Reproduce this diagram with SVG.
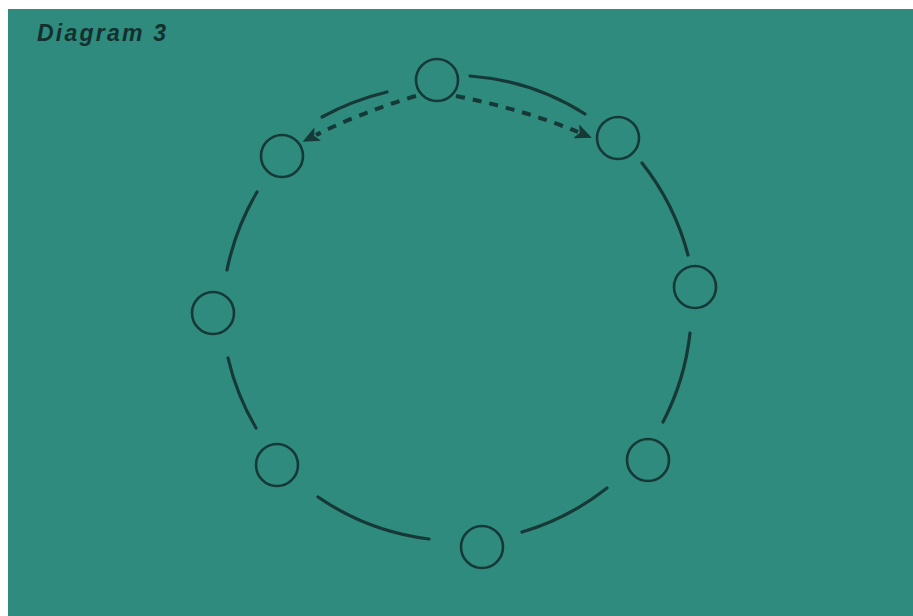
<svg xmlns="http://www.w3.org/2000/svg" width="913" height="616" viewBox="0 0 913 616">
<defs>
<style>
.node{fill:none;stroke:#163837;stroke-width:2.6}
.arc{fill:none;stroke:#163837;stroke-width:3.2;stroke-linecap:round}
.dash{fill:none;stroke:#163837;stroke-width:4;stroke-dasharray:9 8}
.title{font-family:"Liberation Sans",Arial,sans-serif;font-weight:bold;font-style:italic;font-size:23px;fill:#13302f}
</style>
<marker id="ah" viewBox="0 0 17 15" refX="2" refY="7.5" markerWidth="17" markerHeight="15" markerUnits="userSpaceOnUse" orient="auto">
<path d="M0,0 L17,7.5 L0,15 L4,7.5 Z" fill="#163837"/>
</marker>
</defs>
<rect x="0" y="0" width="913" height="616" fill="#ffffff"/>
<rect x="8" y="9" width="905" height="607" fill="#2e8b7d"/>
<text class="title" x="37" y="41" textLength="129" lengthAdjust="spacing">Diagram 3</text>
<g id="connectors">
<path class="arc" d="M322,117 A260,260 0 0 1 387,92"/>
<path class="arc" d="M470,76 A250,250 0 0 1 585,114"/>
<path class="arc" d="M642,163 A250,250 0 0 1 688,255"/>
<path class="arc" d="M690,333 A250,250 0 0 1 663,422"/>
<path class="arc" d="M607,488 A250,250 0 0 1 522,532"/>
<path class="arc" d="M429,539 A250,250 0 0 1 318,497"/>
<path class="arc" d="M256,428 A250,250 0 0 1 228,358"/>
<path class="arc" d="M227,270 A250,250 0 0 1 257,192"/>
<path class="dash" d="M416,96 Q362,112 316,135" marker-end="url(#ah)"/>
<path class="dash" d="M456,96 Q522,109 578,132" marker-end="url(#ah)"/>
</g>
<g id="n-top"><circle class="node" cx="437" cy="80" r="21"/></g>
<g id="n-topright"><circle class="node" cx="618" cy="138" r="21"/></g>
<g id="n-right"><circle class="node" cx="695" cy="287" r="21"/></g>
<g id="n-bottomright"><circle class="node" cx="648" cy="460" r="21"/></g>
<g id="n-bottom"><circle class="node" cx="482" cy="547" r="21"/></g>
<g id="n-bottomleft"><circle class="node" cx="277" cy="465" r="21"/></g>
<g id="n-left"><circle class="node" cx="213" cy="313" r="21"/></g>
<g id="n-topleft"><circle class="node" cx="282" cy="156" r="21"/></g>
</svg>
